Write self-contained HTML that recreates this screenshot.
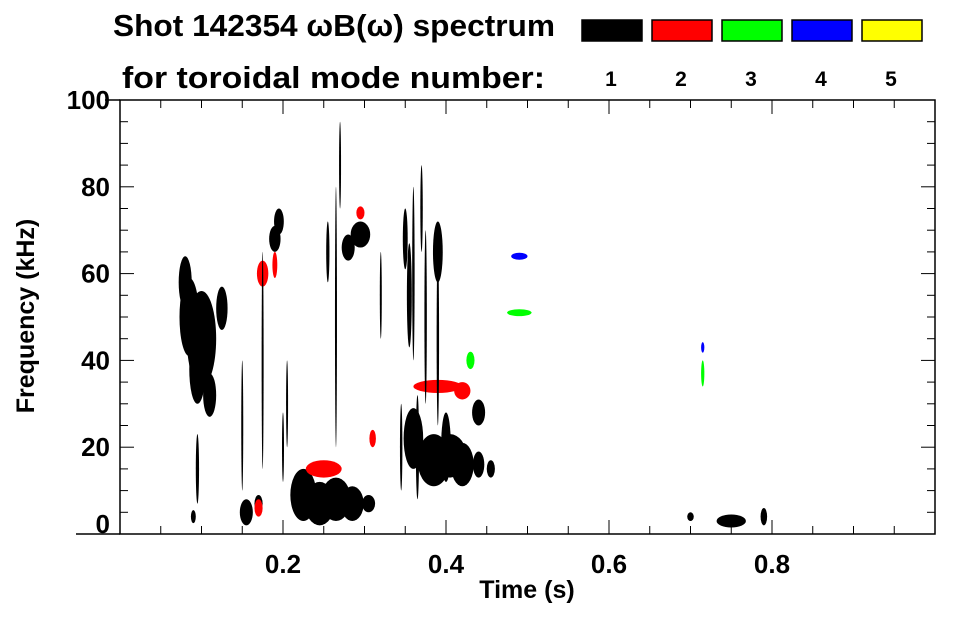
<!DOCTYPE html>
<html><head><meta charset="utf-8"><style>
body{margin:0;background:#fff;width:963px;height:615px;overflow:hidden;font-family:"Liberation Sans",Arial,sans-serif}
svg text{font-family:"Liberation Sans",Arial,sans-serif;font-weight:bold}
</style></head><body>
<svg id="chart" width="963" height="615" viewBox="0 0 963 615" xmlns="http://www.w3.org/2000/svg">
<text x="113" y="36" font-size="31" textLength="442" lengthAdjust="spacingAndGlyphs">Shot 142354 ωB(ω) spectrum</text>
<text x="122" y="88" font-size="31" textLength="423" lengthAdjust="spacingAndGlyphs">for toroidal mode number:</text>
<g id="legend"></g>
<g id="marks"></g>
<g id="axes"></g>
<text x="527" y="598" font-size="25" text-anchor="middle">Time (s)</text>
<text transform="translate(34,316) rotate(-90)" font-size="25" text-anchor="middle">Frequency (kHz)</text>
</svg>
<script>
const modeColors=['#000','#f00','#0f0','#00f','#ff0'];
const modeLabels=['1','2','3','4','5'];
const xTicks=[0.2,0.4,0.6,0.8];
const xTickLabels=['0.2','0.4','0.6','0.8'];
const yTicks=[0,20,40,60,80,100];
const yTickLabels=['0','20','40','60','80','100'];
// blobs: time center (s), freq center (kHz), time half-width, freq half-height, mode index
const blobT=[0.085,0.10,0.08,0.095,0.11,0.125,0.19,0.195,0.225,0.245,0.265,0.285,0.305,0.295,0.28,0.36,0.385,0.405,0.42,0.44,0.455,0.355,0.39,0.35,0.09,0.155,0.17,0.70,0.75,0.79,0.175,0.19,0.295,0.25,0.39,0.31,0.17,0.42,0.49,0.43,0.715,0.49,0.715,0.095,0.40,0.255,0.365,0.44,
 0.175,0.205,0.265,0.27,0.36,0.375,0.39,0.15,0.32,0.2,0.345,0.37];
const blobF=[50,45,58,38,32,52,68,72,9,7,8,7,7,69,66,22,17,18,16,16,15,55,65,68,4,5,7,4,3,4,60,62,74,15,34,22,6,33,51,40,37,64,43,15,20,65,20,28,
 40,30,50,85,60,50,45,25,55,20,20,75];
const blobW=[0.012,0.018,0.008,0.01,0.008,0.007,0.007,0.006,0.016,0.018,0.018,0.014,0.008,0.012,0.008,0.012,0.02,0.02,0.014,0.007,0.005,0.003,0.006,0.003,0.003,0.008,0.005,0.004,0.018,0.004,0.007,0.003,0.005,0.022,0.03,0.004,0.005,0.01,0.015,0.005,0.002,0.01,0.002,0.002,0.006,0.002,0.002,0.008,
 0.001,0.001,0.001,0.001,0.0015,0.0015,0.0015,0.001,0.001,0.001,0.0015,0.0015];
const blobH=[9,11,6,8,5,5,3,3,6,5,5,4,2,3,3,7,6,5,5,3,2,12,7,7,1.5,3,2,1,1.5,2,3,3,1.5,2,1.5,2,2,2,0.8,2,3,0.8,1.2,8,8,7,12,3,
 25,10,30,10,20,20,20,15,10,8,10,10];
const blobM=[0,0,0,0,0,0,0,0,0,0,0,0,0,0,0,0,0,0,0,0,0,0,0,0,0,0,0,0,0,0,1,1,1,1,1,1,1,1,2,2,2,3,3,0,0,0,0,0,
 0,0,0,0,0,0,0,0,0,0,0,0];
const X0=120,X1=935,Y0=534,Y1=100;
const xs=t=>X0+(X1-X0)*t;
const ys=f=>Y0-(Y0-Y1)*f/100;
const NS='http://www.w3.org/2000/svg';
function mk(tag,attrs,parent){const e=document.createElementNS(NS,tag);for(const k in attrs)e.setAttribute(k,attrs[k]);parent.appendChild(e);return e;}
const marks=document.getElementById('marks');
for(let i=0;i<blobT.length;i++){
 const e=mk('ellipse',{cx:xs(blobT[i]),cy:ys(blobF[i]),rx:Math.max(1,xs(blobW[i])-X0),ry:Math.max(1,(Y0-Y1)*blobH[i]/100),fill:modeColors[blobM[i]]},marks);
 
 
}
const axes=document.getElementById('axes');
const fr=mk('rect',{x:X0,y:Y1,width:X1-X0,height:Y0-Y1,fill:'none',stroke:'#000','stroke-width':1.5},axes);


for(let k=1;k<20;k++){const t=k*0.05,L=(k%4===0)?14:8;
 mk('line',{x1:xs(t),x2:xs(t),y1:Y0,y2:Y0-L,stroke:'#000'},axes);
 mk('line',{x1:xs(t),x2:xs(t),y1:Y1,y2:Y1+L,stroke:'#000'},axes);}
for(let k=1;k<20;k++){const f=k*5,L=(k%4===0)?14:8;
 mk('line',{x1:X0,x2:X0+L,y1:ys(f),y2:ys(f),stroke:'#000'},axes);
 mk('line',{x1:X1,x2:X1-L,y1:ys(f),y2:ys(f),stroke:'#000'},axes);}
mk('line',{x1:X0-15,x2:X0,y1:Y1,y2:Y1,stroke:'#000','stroke-width':1.5},axes);
mk('line',{x1:X0-44,x2:X0,y1:Y0,y2:Y0,stroke:'#000','stroke-width':1.5},axes);
xTicks.forEach((t,i)=>{const tx=mk('text',{x:xs(t),y:573,'font-size':26,'text-anchor':'middle'},axes);tx.textContent=xTickLabels[i];
 
 });
yTicks.forEach((f,i)=>{let ty=ys(f)+9;if(f===0)ty=533;const tx=mk('text',{x:X0-10,y:ty,'font-size':26,'text-anchor':'end'},axes);tx.textContent=yTickLabels[i];
 
 });
const lg=document.getElementById('legend');
modeColors.forEach((c,i)=>{const x=582+i*70;
 const r=mk('rect',{x:x,y:20,width:60,height:21,fill:c,stroke:'#000','stroke-width':1.5},lg);
 
 
 const t=mk('text',{x:x+29,y:86,'font-size':21,'text-anchor':'middle'},lg);t.textContent=modeLabels[i];
 
 });
</script>
</body></html>
